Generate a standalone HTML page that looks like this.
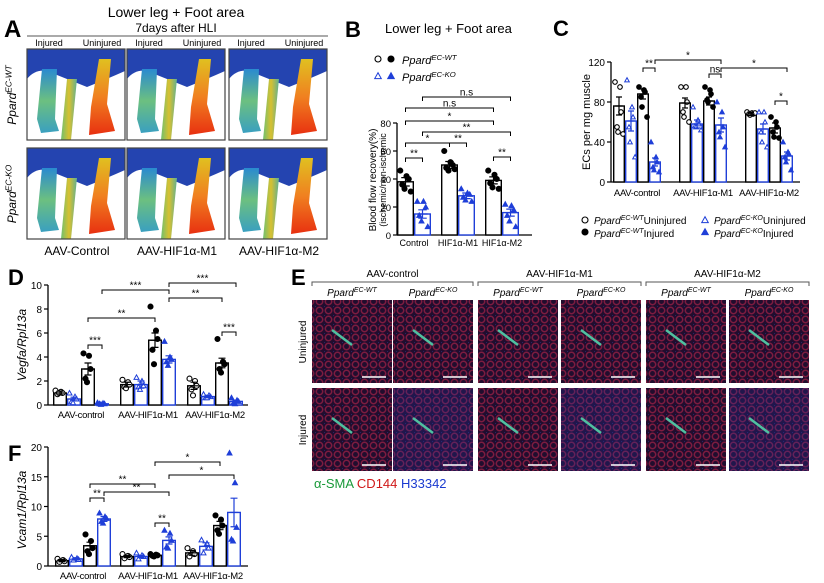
<!DOCTYPE html>
<html><head><meta charset="utf-8"><style>
html,body{margin:0;padding:0;background:#fff}
svg{display:block;font-family:"Liberation Sans",sans-serif}
</style></head><body>
<svg id="fig" width="824" height="583" viewBox="0 0 824 583" xmlns="http://www.w3.org/2000/svg">
<defs>
 <linearGradient id="legG" x1="0" y1="0" x2="0" y2="1"><stop offset="0" stop-color="#2a8ad0"/><stop offset="0.5" stop-color="#6cc080"/><stop offset="1" stop-color="#3aa0c0"/></linearGradient>
 <linearGradient id="pawG" x1="0" y1="0" x2="0" y2="1"><stop offset="0" stop-color="#e0c020"/><stop offset="0.5" stop-color="#f08020"/><stop offset="1" stop-color="#e83010"/></linearGradient>
 <linearGradient id="tailG" x1="0" y1="0" x2="1" y2="0"><stop offset="0" stop-color="#70c070"/><stop offset="0.5" stop-color="#d8c030"/><stop offset="1" stop-color="#60b090"/></linearGradient>
 <pattern id="cells" width="9" height="9" patternUnits="userSpaceOnUse"><rect width="9" height="9" fill="#22081f"/><circle cx="4.5" cy="4.5" r="3.2" fill="none" stroke="#8a1a34" stroke-width="1.5"/><circle cx="0" cy="0" r="0.9" fill="#283890"/></pattern>
</defs>
<g id="panelA"></g>
<g id="panelB"></g>
<g id="panelC"></g>
<g id="panelD"></g>
<g id="panelE"></g>
<g id="panelF"></g>
</svg>
<script>
// ---------- data ----------
const groupsA = ["AAV-Control","AAV-HIF1\u03b1-M1","AAV-HIF1\u03b1-M2"];
const groupsB = ["Control","HIF1\u03b1-M1","HIF1\u03b1-M2"];
const groupsCDF = ["AAV-control","AAV-HIF1\u03b1-M1","AAV-HIF1\u03b1-M2"];
const ticksB = [0,20,40,60,80];
const ticksC = [0,40,80,120];
const ticksD = [0,2,4,6,8,10];
const ticksF = [0,5,10,15,20];
// B: WT, KO
const bWT = [38,50,39], bWTsem = [3,2.5,2.5];
const bKO = [15,28,16], bKOsem = [3,2,2.5];
const bWTpts = [[46,42,40,36,33,31],[60,52,50,48,46,47],[46,43,40,37,34,33]];
const bKOpts = [[24,24,20,14,10,6],[33,30,29,27,25,24],[22,21,18,14,10,6]];
// C: WT-U, KO-U, WT-I, KO-I
const cWTU = [76,79,68], cKOU = [61,58,53], cWTI = [88,81,54], cKOI = [20,57,26];
const cWTUsem = [9,5,1.5], cKOUsem = [10,4,5], cWTIsem = [5,4,5], cKOIsem = [4,7,4];
const cWTUpts = [[100,95,70,55,50,48],[95,95,80,70,65,60],[70,69,68,68,67,69]];
const cKOUpts = [[102,75,65,55,40,25],[75,62,58,56,55,52],[70,70,60,50,40,35]];
const cWTIpts = [[95,92,90,85,75,65],[95,92,88,82,80,75],[65,60,55,50,45,44]];
const cKOIpts = [[40,25,20,15,12,10],[80,70,55,50,45,35],[40,30,28,25,20,12]];
// D
const dWTU = [1.0,1.7,1.6], dKOU = [0.5,1.7,0.7], dWTI = [3.0,5.4,3.5], dKOI = [0.1,3.8,0.3];
const dWTUsem = [0.15,0.2,0.3], dKOUsem = [0.15,0.3,0.1], dWTIsem = [0.5,0.6,0.4], dKOIsem = [0.05,0.3,0.1];
const dWTUpts = [[1.2,1.1,1.0,0.9,1.0],[2.1,1.9,1.7,1.5,1.4],[2.2,2.0,1.6,1.3,0.8]];
const dKOUpts = [[1.0,0.7,0.5,0.3,0.2],[2.3,2.0,1.6,1.5,1.3],[0.9,0.8,0.7,0.6,0.6]];
const dWTIpts = [[4.3,4.1,3.0,2.2,1.9],[8.2,6.2,5.5,4.6,3.4],[5.5,3.6,3.4,3.0,2.7]];
const dKOIpts = [[0.2,0.15,0.1,0.1,0.05],[5.3,4.0,3.8,3.6,3.3],[0.6,0.4,0.3,0.2,0.1]];
// F
const fWTU = [0.9,1.6,2.2], fKOU = [1.2,1.6,3.3], fWTI = [3.4,1.8,6.8], fKOI = [7.9,4.3,9.0];
const fWTUsem = [0.2,0.2,0.4], fKOUsem = [0.2,0.2,0.6], fWTIsem = [0.6,0.1,0.7], fKOIsem = [0.4,0.6,2.4];
const fWTUpts = [[1.2,1.0,0.8,0.7],[2.0,1.7,1.5,1.3],[3.0,2.5,2.0,1.6]];
const fKOUpts = [[1.5,1.3,1.1,1.0],[2.2,1.8,1.6,1.2],[4.4,3.8,3.0,2.2]];
const fWTIpts = [[5.3,4.2,3.0,2.5,2.0],[2.0,1.9,1.8,1.7,1.6],[8.5,7.8,6.8,6.0,5.4]];
const fKOIpts = [[8.9,8.3,8.0,7.5,7.2],[6.0,5.5,4.3,3.2,3.0],[19,14,6.5,4.5,4.2]];

// ---------- helpers ----------
const NS = "http://www.w3.org/2000/svg";
const BLUE = "#1f3fd8";
function mk(parent, tag, attrs, text){
  const e = document.createElementNS(NS, tag);
  for (const k in attrs) e.setAttribute(k, attrs[k]);
  if (text !== undefined) e.textContent = text;
  parent.appendChild(e);
  return e;
}
function txt(parent, x, y, s, size, extra, name){
  const t = mk(parent, "text", Object.assign({x:x, y:y, "font-size":size}, extra||{}), s);
  
  
  return t;
}
function ppard(parent, x, y, sup, size, anchor, name, suffix){
  const t = mk(parent, "text", {x:x, y:y, "font-size":size, "text-anchor":anchor||"start"});
  
  
  mk(t, "tspan", {"font-style":"italic"}, "Ppard");
  mk(t, "tspan", {"font-size":size*0.7, dy:-size*0.38, "font-style":"italic"}, sup);
  if (suffix) mk(t, "tspan", {dy:size*0.38}, suffix);
  return t;
}
function marker(parent, x, y, color, open, tri, r){
  let e;
  if (tri){
    e = mk(parent, "polygon", {points:`${x},${y-r} ${x-r},${y+r*0.8} ${x+r},${y+r*0.8}`, fill: open?"#fff":color, stroke: color, "stroke-width":1});
  } else {
    e = mk(parent, "circle", {cx:x, cy:y, r:r, fill: open?"#fff":color, stroke: color, "stroke-width":1.1});
  }
  
  
  return e;
}

function barChart(g, cfg){
  const y = v => cfg.y0 - v*cfg.k;
  const top = cfg.ticks[cfg.ticks.length-1];
  const ya = mk(g, "line", {x1:cfg.ax, y1:cfg.y0, x2:cfg.ax, y2:y(top), stroke:"#000", "stroke-width":1.3});
   
  const xa = mk(g, "line", {x1:cfg.ax, y1:cfg.y0, x2:cfg.xEnd, y2:cfg.y0, stroke:"#000", "stroke-width":1.3});
   
  cfg.ticks.forEach(t => {
    const tl = mk(g, "line", {x1:cfg.ax-4, y1:y(t), x2:cfg.ax, y2:y(t), stroke:"#000", "stroke-width":1.2});
     
    txt(g, cfg.ax-6, y(t)+4, String(t), cfg.fs, {"text-anchor":"end"}, 'y-tick-label');
  });
  const nb = cfg.series.length;
  cfg.groups.forEach((gn, gi) => {
    const gx = cfg.x0 + gi*cfg.step;
    txt(g, gx + nb*cfg.bw/2, cfg.y0 + cfg.labDy, gn, cfg.lfs || cfg.fs, {"text-anchor":"middle", "letter-spacing":cfg.ls||0}, 'x-category-label');
    cfg.series.forEach((s, si) => {
      const bx = gx + si*cfg.bw;
      const m = s.mean[gi];
      const r = mk(g, "rect", {x:bx+0.7, y:y(m), width:cfg.bw-1.4, height:cfg.y0-y(m), fill:"#fff", stroke:s.color, "stroke-width":1.4});
      
      
      const cx = bx + cfg.bw/2;
      s.pts[gi].forEach((p, pi) => {
        const off = ((pi % 3) - 1) * cfg.bw*0.25 + (pi%2? 1:-1);
        marker(g, cx+off, y(p), s.color, s.open, s.tri, cfg.r);
      });
      const e = s.sem[gi];
      const el = mk(g, "path", {d:`M${cx},${y(m-e)}V${y(m+e)}M${cx-cfg.bw*0.25},${y(m+e)}H${cx+cfg.bw*0.25}M${cx-cfg.bw*0.25},${y(m-e)}H${cx+cfg.bw*0.25}M${cx-cfg.bw*0.3},${y(m)}H${cx+cfg.bw*0.3}`, stroke:s.color, "stroke-width":1.2, fill:"none"});
      
      
    });
  });
  return { bx: (gi, si) => cfg.x0 + gi*cfg.step + si*cfg.bw + cfg.bw/2, y: y };
}
function bracket(g, x1, x2, yy, label, fs){
  const p = mk(g, "path", {d:`M${x1},${yy+4}V${yy}H${x2}V${yy+4}`, stroke:"#000", "stroke-width":1, fill:"none"});
  
  
  txt(g, (x1+x2)/2, yy-1.5, label, fs||10, {"text-anchor":"middle"}, 'significance-label');
}

// ---------- Panel A ----------
(function(){
  const g = document.getElementById("panelA");
  txt(g, 4, 37, "A", 24, {"font-weight":"bold"}, 'panel-label-a');
  txt(g, 176, 17, "Lower leg + Foot area", 14, {"text-anchor":"middle"}, 'panel-a-title');
  txt(g, 176, 32, "7days after HLI", 12, {"text-anchor":"middle"}, 'panel-a-subtitle');
  const ln = mk(g, "line", {x1:27, y1:36, x2:328, y2:36, stroke:"#555", "stroke-width":1});
   
  const cols = [27,127,229], rows = [49,148];
  cols.forEach((cx, ci) => {
    txt(g, cx+22, 46, "Injured", 9, {"text-anchor":"middle"}, 'injured-label');
    txt(g, cx+75, 46, "Uninjured", 9, {"text-anchor":"middle"}, 'uninjured-label');
    txt(g, cx+50, 255, groupsA[ci], 12, {"text-anchor":"middle"}, 'group-label');
    rows.forEach((ry, ri) => {
      const im = mk(g, "g", {});
      
      
      mk(im, "rect", {x:cx, y:ry, width:98, height:91, fill:"#fff"});
      mk(im, "path", {d:`M${cx},${ry}H${cx+98}V${ry+22}Q${cx+80},${ry+30} ${cx+60},${ry+38}Q${cx+40},${ry+30} ${cx+20},${ry+22}Q${cx+8},${ry+20} ${cx},${ry+30}Z`, fill:"#2444b0"});
      mk(im, "path", {d:`M${cx+15},${ry+20}L${cx+30},${ry+20}L${cx+28},${ry+70}L${cx+32},${ry+82}L${cx+14},${ry+84}L${cx+10},${ry+70}Z`, fill:"url(#legG)"});
      mk(im, "path", {d:`M${cx+40},${ry+30}L${cx+50},${ry+30}L${cx+44},${ry+91}L${cx+34},${ry+91}Z`, fill:"url(#tailG)"});
      mk(im, "path", {d:`M${cx+72},${ry+10}L${cx+84},${ry+10}L${cx+80},${ry+55}L${cx+88},${ry+82}L${cx+62},${ry+86}L${cx+64},${ry+58}Z`, fill:"url(#pawG)"});
      mk(im, "rect", {x:cx, y:ry, width:98, height:91, fill:"none", stroke:"#444", "stroke-width":1.2});
    });
  });
  const t1 = ppard(g, 0, 0, "EC-WT", 12, "middle", 'row-label-wt');
  t1.setAttribute("transform", "translate(16,95) rotate(-90)");
  const t2 = ppard(g, 0, 0, "EC-KO", 12, "middle", 'row-label-ko');
  t2.setAttribute("transform", "translate(16,194) rotate(-90)");
})();

// ---------- Panel B ----------
(function(){
  const g = document.getElementById("panelB");
  txt(g, 345, 37, "B", 22, {"font-weight":"bold"}, 'panel-label-b');
  txt(g, 385, 33, "Lower leg + Foot area", 13, {}, 'panel-b-title');
  marker(g, 378, 59, "#000", true, false, 3);
  marker(g, 391, 59, "#000", false, false, 3);
  ppard(g, 402, 64, "EC-WT", 11, "start", 'legend-wt');
  marker(g, 378, 76, BLUE, true, true, 3.3);
  marker(g, 391, 76, BLUE, false, true, 3.3);
  ppard(g, 402, 81, "EC-KO", 11, "start", 'legend-ko');
  const c = barChart(g, {x0:397, y0:235, k:1.40, step:44, bw:17, ax:397, xEnd:532, ticks:ticksB, fs:9.5, labDy:11, r:2.5,
    groups:groupsB, lfs:9,
    series:[{mean:bWT, sem:bWTsem, pts:bWTpts, color:"#000", open:false, tri:false},
            {mean:bKO, sem:bKOsem, pts:bKOpts, color:BLUE, open:false, tri:true}]});
  const t = txt(g, 0, 0, "Blood flow recovery(%)", 10, {"text-anchor":"middle"}, 'y-axis-title');
  t.setAttribute("transform", "translate(376,180) rotate(-90)");
  const t2 = txt(g, 0, 0, "(ischemic/non-ischemic", 9, {"text-anchor":"middle"}, 'y-axis-subtitle');
  t2.setAttribute("transform", "translate(386,180) rotate(-90)");
  bracket(g, c.bx(0,0), c.bx(0,1), 158, "**");
  bracket(g, c.bx(1,0), c.bx(1,1), 143, "**");
  bracket(g, c.bx(2,0), c.bx(2,1), 157, "**");
  bracket(g, c.bx(0,0), c.bx(1,0), 143, "*");
  bracket(g, c.bx(0,1), c.bx(2,1), 132, "**");
  bracket(g, c.bx(0,0), c.bx(2,0), 121, "*");
  bracket(g, c.bx(0,0), c.bx(2,0), 108, "n.s");
  bracket(g, c.bx(0,1), c.bx(2,1), 97, "n.s");
})();

// ---------- Panel C ----------
(function(){
  const g = document.getElementById("panelC");
  txt(g, 553, 36, "C", 22, {"font-weight":"bold"}, 'panel-label-c');
  const c = barChart(g, {x0:613, y0:182, k:1.0, step:66, bw:12, ax:611, xEnd:800, ticks:ticksC, fs:10, labDy:14, r:2.3,
    groups:groupsCDF, lfs:9.5, ls:-0.3,
    series:[{mean:cWTU, sem:cWTUsem, pts:cWTUpts, color:"#000", open:true, tri:false},
            {mean:cKOU, sem:cKOUsem, pts:cKOUpts, color:BLUE, open:true, tri:true},
            {mean:cWTI, sem:cWTIsem, pts:cWTIpts, color:"#000", open:false, tri:false},
            {mean:cKOI, sem:cKOIsem, pts:cKOIpts, color:BLUE, open:false, tri:true}]});
  const t = txt(g, 0, 0, "ECs per mg muscle", 11, {"text-anchor":"middle"}, 'y-axis-title');
  t.setAttribute("transform", "translate(590,122) rotate(-90)");
  bracket(g, c.bx(0,2), c.bx(0,3), 68, "**");
  bracket(g, c.bx(1,2), c.bx(1,3), 74, "ns");
  bracket(g, c.bx(2,2), c.bx(2,3), 101, "*");
  bracket(g, c.bx(0,3), c.bx(1,3), 60, "*");
  bracket(g, c.bx(1,3), c.bx(2,3), 68, "*");
  marker(g, 585, 220, "#000", true, false, 3);
  ppard(g, 594, 224, "EC-WT", 10, "start", 'legend-wt-uninjured', "Uninjured");
  marker(g, 585, 232, "#000", false, false, 3);
  ppard(g, 594, 237, "EC-WT", 10, "start", 'legend-wt-injured', "Injured");
  marker(g, 705, 220, BLUE, true, true, 3.3);
  ppard(g, 714, 224, "EC-KO", 10, "start", 'legend-ko-uninjured', "Uninjured");
  marker(g, 705, 232, BLUE, false, true, 3.3);
  ppard(g, 714, 237, "EC-KO", 10, "start", 'legend-ko-injured', "Injured");
})();

// ---------- Panel D ----------
(function(){
  const g = document.getElementById("panelD");
  txt(g, 8, 285, "D", 22, {"font-weight":"bold"}, 'panel-label-d');
  const c = barChart(g, {x0:53, y0:405, k:12, step:67, bw:14, ax:48, xEnd:248, ticks:ticksD, fs:10, labDy:13, r:2.5,
    groups:groupsCDF, lfs:9.5, ls:-0.3,
    series:[{mean:dWTU, sem:dWTUsem, pts:dWTUpts, color:"#000", open:true, tri:false},
            {mean:dKOU, sem:dKOUsem, pts:dKOUpts, color:BLUE, open:true, tri:true},
            {mean:dWTI, sem:dWTIsem, pts:dWTIpts, color:"#000", open:false, tri:false},
            {mean:dKOI, sem:dKOIsem, pts:dKOIpts, color:BLUE, open:false, tri:true}]});
  const t = txt(g, 0, 0, "Vegfa/Rpl13a", 12, {"text-anchor":"middle", "font-style":"italic"}, 'y-axis-title');
  t.setAttribute("transform", "translate(26,345) rotate(-90)");
  bracket(g, c.bx(0,2), c.bx(0,3), 345, "***");
  bracket(g, c.bx(2,2), c.bx(2,3), 332, "***");
  bracket(g, c.bx(0,2), c.bx(1,2), 318, "**");
  bracket(g, c.bx(1,3), c.bx(2,2), 298, "**");
  bracket(g, c.bx(0,3), c.bx(1,3), 290, "***");
  bracket(g, c.bx(1,3), c.bx(2,3), 283, "***");
})();

// ---------- Panel F ----------
(function(){
  const g = document.getElementById("panelF");
  txt(g, 8, 461, "F", 22, {"font-weight":"bold"}, 'panel-label-f');
  const c = barChart(g, {x0:55, y0:566, k:5.95, step:65, bw:14, ax:48, xEnd:248, ticks:ticksF, fs:10, labDy:13, r:2.5,
    groups:groupsCDF, lfs:9.5, ls:-0.3,
    series:[{mean:fWTU, sem:fWTUsem, pts:fWTUpts, color:"#000", open:true, tri:false},
            {mean:fKOU, sem:fKOUsem, pts:fKOUpts, color:BLUE, open:true, tri:true},
            {mean:fWTI, sem:fWTIsem, pts:fWTIpts, color:"#000", open:false, tri:false},
            {mean:fKOI, sem:fKOIsem, pts:fKOIpts, color:BLUE, open:false, tri:true}]});
  const t = txt(g, 0, 0, "Vcam1/Rpl13a", 12, {"text-anchor":"middle", "font-style":"italic"}, 'y-axis-title');
  t.setAttribute("transform", "translate(26,510) rotate(-90)");
  bracket(g, c.bx(0,2), c.bx(0,3), 498, "**");
  bracket(g, c.bx(1,2), c.bx(1,3), 523, "**");
  bracket(g, c.bx(0,2), c.bx(1,2), 484, "**");
  bracket(g, c.bx(0,3), c.bx(1,3), 492, "**");
  bracket(g, c.bx(1,2), c.bx(2,2), 462, "*");
  bracket(g, c.bx(1,3), c.bx(2,3), 475, "*");
})();

// ---------- Panel E ----------
(function(){
  const g = document.getElementById("panelE");
  txt(g, 291, 285, "E", 22, {"font-weight":"bold"}, 'panel-label-e');
  const cols = [312,393,478,561,646,729], rows = [300,388];
  const hdr = ["AAV-control","AAV-HIF1\u03b1-M1","AAV-HIF1\u03b1-M2"];
  for (let i=0;i<3;i++){
    const x1 = cols[i*2], x2 = cols[i*2+1]+80;
    txt(g, (x1+x2)/2, 277, hdr[i], 10, {"text-anchor":"middle"}, 'micrograph-group-label');
    const b = mk(g, "path", {d:`M${x1},${286}V${282}H${x2}V${286}`, stroke:"#555", fill:"none", "stroke-width":1});
     
    ppard(g, cols[i*2]+40, 296, "EC-WT", 10, "middle", 'column-label-wt');
    ppard(g, cols[i*2+1]+40, 296, "EC-KO", 10, "middle", 'column-label-ko');
  }
  cols.forEach((cx, ci) => rows.forEach((ry, ri) => {
    const im = mk(g, "g", {});
    
    
    mk(im, "rect", {x:cx, y:ry, width:80, height:83, fill:"url(#cells)"});
    const blue = (ri===1 && (ci%2===1)) ? 0.35 : 0.12;
    mk(im, "rect", {x:cx, y:ry, width:80, height:83, fill:"#2030a0", opacity:blue});
    mk(im, "path", {d:`M${cx+20},${ry+30}L${cx+40},${ry+45}`, stroke:"#50c0a0", "stroke-width":2.5});
    mk(im, "line", {x1:cx+50, y1:ry+77, x2:cx+74, y2:ry+77, stroke:"#fff", "stroke-width":1.5});
  }));
  const r1 = txt(g, 0, 0, "Uninjured", 10, {"text-anchor":"middle"}, 'row-label-uninjured');
  r1.setAttribute("transform", "translate(306,342) rotate(-90)");
  const r2 = txt(g, 0, 0, "Injured", 10, {"text-anchor":"middle"}, 'row-label-injured');
  r2.setAttribute("transform", "translate(306,430) rotate(-90)");
  const lg = mk(g, "text", {x:314, y:488, "font-size":13});
   
  mk(lg, "tspan", {fill:"#1a9a3a"}, "\u03b1-SMA ");
  mk(lg, "tspan", {fill:"#d01818"}, "CD144 ");
  mk(lg, "tspan", {fill:"#1a3ad0"}, "H33342");
})();
</script>
</body></html>
